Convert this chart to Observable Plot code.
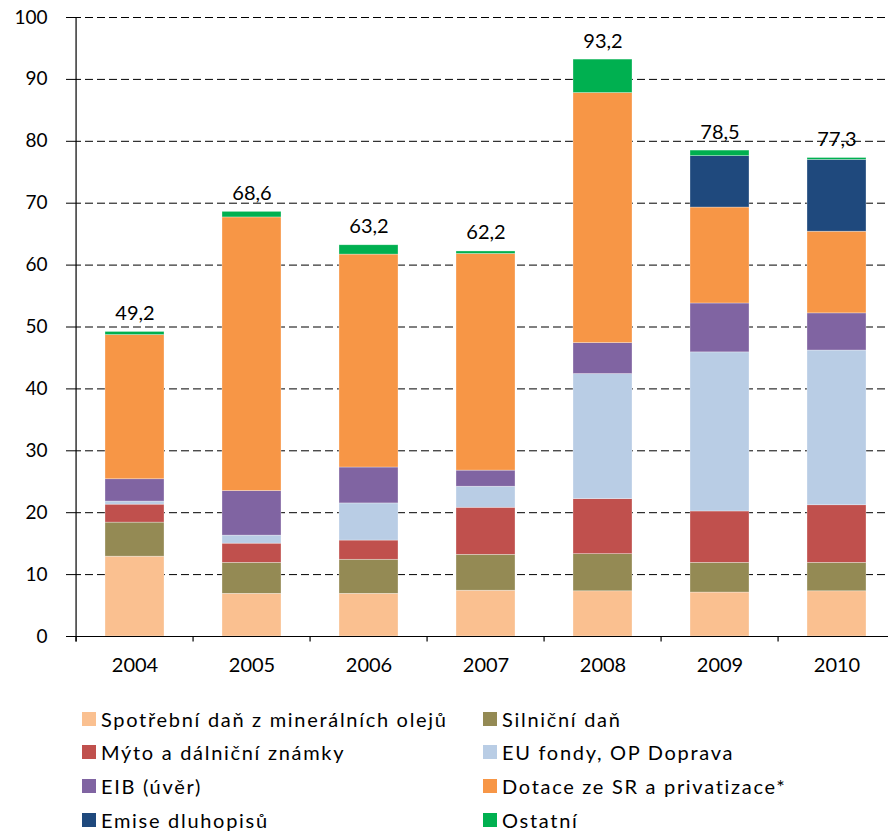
<!DOCTYPE html>
<html>
<head>
<meta charset="utf-8">
<script src="https://cdn.jsdelivr.net/npm/d3@7"></script>
<script src="https://cdn.jsdelivr.net/npm/@observablehq/plot@0.6"></script>
<style>
  html, body { margin: 0; padding: 0; background: #fff; }
  body { width: 888px; height: 831px; position: relative; overflow: hidden; font-family: Lato, "Noto Sans", sans-serif; }
  #chart { position: absolute; left: 0; top: 0; }
  .leg { position: absolute; font-size: 20px; color: #000; display: flex; align-items: center; white-space: nowrap; letter-spacing: 1.7px; }
  .sw { width: 14px; height: 14px; margin-right: 5px; flex: none; }
</style>
</head>
<body>
<div id="chart"></div>
<div id="legend"></div>
<script>
const years = ["2004", "2005", "2006", "2007", "2008", "2009", "2010"];
const seriesNames = [
  "Spotřební daň z minerálních olejů",
  "Silniční daň",
  "Mýto a dálniční známky",
  "EU fondy, OP Doprava",
  "EIB (úvěr)",
  "Dotace ze SR a privatizace*",
  "Emise dluhopisů",
  "Ostatní"
];
const colors = ["#FAC090", "#948A54", "#C0504D", "#B9CDE5", "#8064A2", "#F79646", "#1F497D", "#00B050"];

const spotrebniDan = [12.9, 6.9, 6.9, 7.4, 7.3, 7.1, 7.3];
const silnicniDan  = [5.5, 5.0, 5.5, 5.8, 6.0, 4.8, 4.6];
const myto         = [2.9, 3.1, 3.1, 7.6, 8.9, 8.3, 9.3];
const euFondy      = [0.5, 1.3, 6.0, 3.4, 20.2, 25.7, 25.0];
const eib          = [3.6, 7.2, 5.8, 2.6, 5.0, 7.9, 6.0];
const dotace       = [23.3, 44.2, 34.4, 35.0, 40.4, 15.5, 13.2];
const emise        = [0, 0, 0, 0, 0, 8.3, 11.6];
const ostatni      = [0.5, 0.9, 1.5, 0.4, 5.4, 0.9, 0.3];
const totals       = [49.2, 68.6, 63.2, 62.2, 93.2, 78.5, 77.3];
const yTicks = [0, 10, 20, 30, 40, 50, 60, 70, 80, 90, 100];

const seriesValues = [spotrebniDan, silnicniDan, myto, euFondy, eib, dotace, emise, ostatni];
const data = [];
years.forEach((yr, i) => {
  seriesNames.forEach((s, j) => {
    data.push({year: yr, series: s, value: seriesValues[j][i]});
  });
});
const totalData = years.map((yr, i) => ({year: yr, total: totals[i]}));

const W = 888, H = 690;
const left = 73, rightEnd = 898;
const step = (rightEnd - left) / years.length;

const chart = Plot.plot({
  width: W,
  height: H,
  marginLeft: left,
  marginRight: 0,
  marginTop: 17,
  marginBottom: H - 636,
  style: {fontFamily: "Lato, 'Noto Sans', sans-serif", fontSize: "19px", color: "#000", background: "#fff"},
  x: {domain: years, range: [left, rightEnd], paddingInner: 0.5, paddingOuter: 0.25, label: null},
  y: {domain: [0, 100], label: null},
  color: {domain: seriesNames, range: colors},
  marks: [
    Plot.ruleY(yTicks.filter(d => d > 0), {stroke: "#000", strokeWidth: 1, strokeDasharray: "8,4"}),
    Plot.barY(data, {x: "year", y: "value", fill: "series", stroke: "#fff", strokeOpacity: 0.5, strokeWidth: 0.6}),
    Plot.ruleY([0], {stroke: "#000", strokeWidth: 1.2}),
    Plot.ruleX(years, {x: d => d, dx: -step / 2, y1: 0, y2: -0.9, stroke: "#000", strokeWidth: 1.2}),
    Plot.ruleX([years[0]], {x: d => d, dx: -step / 2, y1: -0.9, y2: 100, stroke: "#000", strokeWidth: 1.2}),
    Plot.axisY(yTicks, {tickSize: 7, tickPadding: 19, fontSize: 19, stroke: "#000"}),
    Plot.axisX(years, {tickSize: 0, tickPadding: 21, fontSize: 20}),
    Plot.text(totalData, {x: "year", y: "total", text: d => d.total.toFixed(1).replace(".", ","), lineAnchor: "bottom", dy: -12, fontSize: 20, fill: "#000"})
  ]
});
document.getElementById("chart").appendChild(chart);

const legend = document.getElementById("legend");
const rowsY = [719, 752, 786, 820];
seriesNames.forEach((s, j) => {
  const col = j % 2, row = Math.floor(j / 2);
  const el = document.createElement("div");
  el.className = "leg";
  el.style.left = (col === 0 ? 82 : 483) + "px";
  el.style.top = (rowsY[row] - 13) + "px";
  el.style.height = "26px";
  el.innerHTML = `<span class="sw" style="background:${colors[j]}"></span><span>${s}</span>`;
  legend.appendChild(el);
});
</script>
</body>
</html>
